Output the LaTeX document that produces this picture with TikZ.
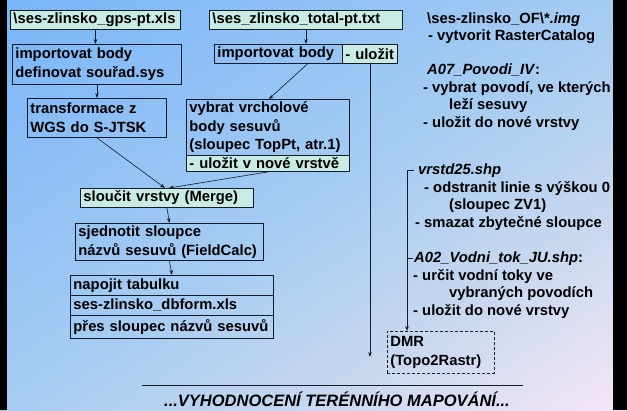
\documentclass[tikz,border=0pt]{standalone}
\usepackage{fontspec}
\setmainfont{Liberation Sans}
\usetikzlibrary{arrows.meta,calc}
\definecolor{bgA}{HTML}{78B4F8}
\definecolor{bgB}{HTML}{A6CCF2}
\definecolor{bgD}{HTML}{C8D8F0}
\definecolor{bgC}{HTML}{F6E6F6}
\definecolor{tealfill}{HTML}{C8ECE4}
\definecolor{edge}{HTML}{141C2C}
\begin{document}
\begin{tikzpicture}[x=1pt,y=1pt,
  box/.style={draw=edge, line width=0.9pt, anchor=north west, inner xsep=3pt, inner ysep=0pt, align=left, font=\fontsize{14.8}{18.6}\selectfont\bfseries, text=black},
  hl/.style={fill=tealfill},
  rt/.style={anchor=base west, inner sep=0pt, font=\fontsize{14.8}{18}\selectfont\bfseries, text=black},
  arr/.style={draw=edge, line width=0.6pt, -{Stealth[length=5pt,width=3.6pt]}},
  ln/.style={draw=edge, line width=0.6pt}]
\useasboundingbox (0,0) rectangle (627,-410);
\begin{scope}
\clip (0,0) rectangle (627,-410);
\foreach \i in {0,...,79}{
  \pgfmathsetmacro{\ca}{\i/40}
  \pgfmathsetmacro{\cb}{(\i+1.1)/40}
  \pgfmathsetmacro{\cm}{(\i+0.5)/40}
  \ifdim \cm pt<1pt
    \pgfmathsetmacro{\p}{100*(1-\cm)}
    \colorlet{bandc}{bgA!\p!bgB}
  \else\ifdim \cm pt<1.5pt
    \pgfmathsetmacro{\p}{100*(1.5-\cm)/0.5}
    \colorlet{bandc}{bgB!\p!bgD}
  \else
    \pgfmathsetmacro{\p}{100*(2-\cm)/0.5}
    \colorlet{bandc}{bgD!\p!bgC}
  \fi\fi
  \fill[bandc] (627*\ca,0) -- (627*\cb,0) -- (0,-410*\cb) -- (0,-410*\ca) -- cycle;
}
\end{scope}
\fill[black] (0,0) rectangle (7,-410);
\fill[black] (613,0) rectangle (627,-410);

\node[box,hl,text width=164pt,minimum height=19pt] (g1) at (10,-10) {\textbackslash ses-zlinsko\_gps-pt.xls};
\node[box,text width=163pt,minimum height=40pt] (g2) at (12,-44) {importovat body\\definovat souřad.sys};
\node[box,text width=133pt,minimum height=39pt] (g3) at (27,-98) {transformace z\\WGS do S-JTSK};
\node[box,hl,text width=187pt,minimum height=19pt] (t1) at (209,-10) {\textbackslash ses\_zlinsko\_total-pt.txt};
\node[box,text width=122pt,minimum height=19pt] (t2) at (214,-44) {importovat body};
\node[box,hl,text width=49pt,minimum height=19pt] (t2b) at (342,-44) {- uložit};
\node[box,text width=157pt,minimum height=56pt] (v1) at (186,-99) {vybrat vrcholové\\body sesuvů\\(sloupec TopPt, atr.1)};
\node[box,hl,text width=157pt,minimum height=16pt] (v1b) at (186,-155) {- uložit v nové vrstvě};
\node[box,hl,text width=167pt,minimum height=19pt] (m) at (80,-188) {sloučit vrstvy (Merge)};
\node[box,text width=182pt,minimum height=37pt] (s) at (75,-223) {sjednotit sloupce\\názvů sesuvů (FieldCalc)};
\node[box,text width=197pt,minimum height=20pt] (n1) at (70,-275) {napojit tabulku};
\node[box,text width=197pt,minimum height=20pt] (n2) at (70,-295) {ses-zlinsko\_dbform.xls};
\node[box,text width=197pt,minimum height=23pt] (n3) at (70,-315) {přes sloupec názvů sesuvů};
\node[box,densely dashed,line width=0.7pt,text width=101pt,minimum height=42pt] (dmr) at (387,-331) {DMR\\(Topo2Rastr)};

\node[rt] (r1) at (427,-23) {\textbackslash ses-zlinsko\_OF\textbackslash*\textit{.img}};
\node[rt] (r2) at (428,-40) {- vytvorit RasterCatalog};
\node[rt] (r3) at (427,-74) {\textit{A07\_Povodi\_IV}:};
\node[rt] (r4) at (423,-92) {- vybrat povodí, ve kterých};
\node[rt] (r5) at (449,-109) {leží sesuvy};
\node[rt] (r6) at (423,-127) {- uložit do nové vrstvy};
\node[rt] (r7) at (418,-174) {\textit{vrstd25.shp}};
\node[rt] (r8) at (424,-192) {- odstranit linie s výškou 0};
\node[rt] (r9) at (449,-209) {(sloupec ZV1)};
\node[rt] (r10) at (415,-227) {- smazat zbytečné sloupce};
\node[rt] (r11) at (414,-262) {\textit{A02\_Vodni\_tok\_JU.shp}:};
\node[rt] (r12) at (413,-280) {- určit vodní toky ve};
\node[rt] (r13) at (449,-297) {vybraných povodích};
\node[rt] (r14) at (413,-315) {- uložit do nové vrstvy};

\node[anchor=base, inner sep=0pt, font=\fontsize{16.5}{18}\selectfont\bfseries\itshape, text=black] (foot) at (337,-406.5) {...VYHODNOCENÍ TERÉNNÍHO MAPOVÁNÍ...};
\coordinate (hl1) at (142,-385);
\coordinate (hl2) at (523,-385);
\draw[ln] (hl1) -- (hl2);

\draw[arr] (g1.south) -- (g1.south |- g2.north);
\draw[arr] (g2.south) -- (g2.south |- g3.north);
\draw[arr] (g3.south) -- ([xshift=-2pt]m.north);
\draw[arr] (t1.south) -- (t1.south |- t2.north);
\draw[arr] ([xshift=29pt]t2.south) -- ([xshift=1pt]v1.north);
\coordinate (endA) at (369,-357);
\draw[arr] (t2b.south) -- (t2b.south |- endA);
\draw[arr] (v1b.south) -- ([xshift=2pt]m.north);
\draw[arr] (m.south) -- (s.north);
\draw[arr] (s.south) -- (n1.north);
\draw[arr] ([xshift=-4pt]r7.west) -| ([xshift=20pt]dmr.north west);
\draw[ln] ([xshift=-1pt]r11.west) -- ++(-6,0);
\end{tikzpicture}
\end{document}
